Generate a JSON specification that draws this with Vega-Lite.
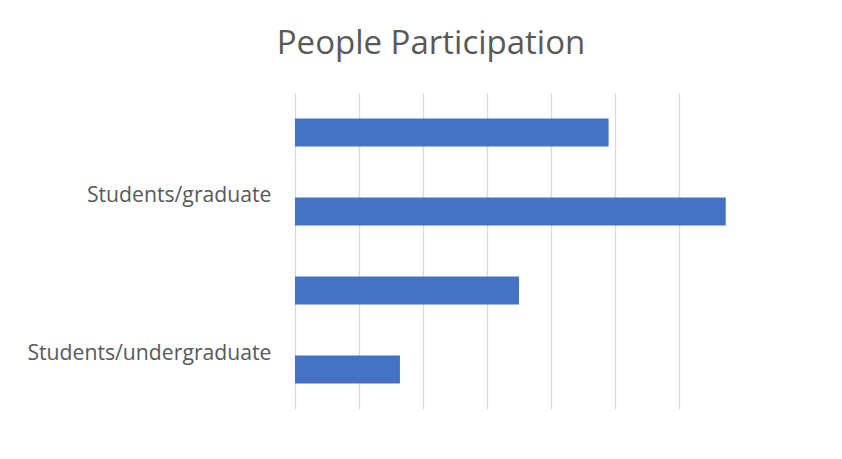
{
  "$schema": "https://vega.github.io/schema/vega-lite/v6.json",
  "width": 480,
  "height": 316,
  "autosize": {"type": "none"},
  "padding": {"left": 295, "top": 93, "right": 67, "bottom": 50},
  "background": "white",
  "title": {
    "text": "People Participation",
    "font": "Open Sans",
    "fontSize": 33,
    "fontWeight": "normal",
    "color": "#595959",
    "anchor": "middle",
    "dx": -104,
    "offset": 32
  },
  "data": {
    "values": [
      {"category": "Category 4", "order": 1, "value": 4.9},
      {"category": "Students/graduate", "order": 2, "value": 6.73},
      {"category": "Category 2", "order": 3, "value": 3.5},
      {"category": "Students/undergraduate", "order": 4, "value": 1.64}
    ]
  },
  "mark": {"type": "bar", "color": "#4472C4"},
  "encoding": {
    "y": {
      "field": "category",
      "type": "nominal",
      "sort": {"field": "order"},
      "scale": {"paddingInner": 0.646, "paddingOuter": 0.323},
      "axis": {
        "title": null,
        "domain": false,
        "ticks": false,
        "labelPadding": 24,
        "labelOffset": -15.5,
        "labelLimit": 400,
        "labelFont": "Open Sans",
        "labelFontSize": 21.2,
        "labelColor": "#595959",
        "labelExpr": "datum.label == 'Students/graduate' || datum.label == 'Students/undergraduate' ? datum.label : ''"
      }
    },
    "x": {
      "field": "value",
      "type": "quantitative",
      "scale": {"domain": [0, 7.5], "nice": false},
      "axis": {
        "title": null,
        "values": [0, 1, 2, 3, 4, 5, 6],
        "labels": false,
        "ticks": false,
        "domain": false,
        "grid": true,
        "gridColor": "#D9D9D9",
        "gridWidth": 1.3
      }
    }
  },
  "config": {"view": {"stroke": null}}
}
